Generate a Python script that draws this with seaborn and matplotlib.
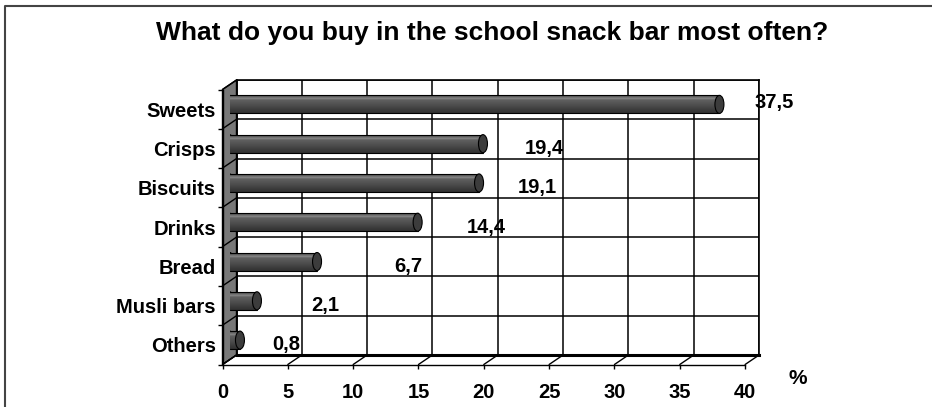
import numpy as np
import pandas as pd
import matplotlib
matplotlib.use("Agg")
import matplotlib.pyplot as plt
from matplotlib.colors import LinearSegmentedColormap
from matplotlib.patches import Ellipse, Polygon
from matplotlib.lines import Line2D
from matplotlib.transforms import IdentityTransform
import seaborn as sns

# ---------------- data ----------------
categories = ["Sweets", "Crisps", "Biscuits", "Drinks", "Bread", "Musli bars", "Others"]
values = [37.5, 19.4, 19.1, 14.4, 6.7, 2.1, 0.8]
x_ticks = [0, 5, 10, 15, 20, 25, 30, 35, 40]
title = "What do you buy in the school snack bar most often?"
unit_label = "%"

# ---------------- layout (data positions of the value labels) ----------------
label_x = [42.25, 24.65, 24.07, 20.17, 14.2, 7.88, 4.86]
label_dy = [-0.17, 0, 0, 0, 0, 0, 0]

sns.set_style("white")
plt.rcParams["font.family"] = ["Liberation Sans", "DejaVu Sans"]
plt.rcParams["font.weight"] = "bold"
plt.rcParams["text.color"] = "black"
plt.rcParams["xtick.color"] = "black"
plt.rcParams["ytick.color"] = "black"
plt.rcParams["xtick.labelcolor"] = "black"
plt.rcParams["ytick.labelcolor"] = "black"

W, H, DPI = 932, 407, 100
fig = plt.figure(figsize=(W / DPI, H / DPI), dpi=DPI)
fig.patch.set_facecolor("white")


def px_axes(left, top, width, height):
    return [left / W, 1 - (top + height) / H, width / W, height / H]


SPAN = 522.6
HGT = 275.0
back = (236.5, 80.0)
dx, dy = 14.0, 9.5   # depth offset (front is left/down)

ax_back = fig.add_axes(px_axes(back[0], back[1], SPAN, HGT), zorder=0)
ax_front = fig.add_axes(px_axes(back[0] - dx, back[1] + dy, SPAN, HGT), zorder=1)
ax_mid = fig.add_axes(px_axes(back[0] - dx / 2, back[1] + dy / 2, SPAN, HGT), zorder=2)

n = len(categories)
ylims = (n - 0.5, -0.5)
xlims = (x_ticks[0], x_ticks[-1])

# ---- back wall with grid ----
ax_back.set_xlim(*xlims)
ax_back.set_ylim(*ylims)
ax_back.set_facecolor("white")
ax_back.set_xticks(x_ticks)
ax_back.set_yticks(np.arange(-0.5, n, 1.0))
ax_back.grid(True, color="black", lw=1.1)
ax_back.tick_params(length=0, labelbottom=False, labelleft=False)
for s in ax_back.spines.values():
    s.set_color("black")
    s.set_linewidth(1.2)
ax_back.spines["bottom"].set_linewidth(2.2)

# ---- bars (mid depth) ----
df = pd.DataFrame({"item": categories, "pct": values})
sns.barplot(data=df, x="pct", y="item", orient="h", ax=ax_mid, color="#4f4f4f",
            width=0.46, edgecolor="none", saturation=1)
ax_mid.set_xlim(*xlims)
ax_mid.set_ylim(*ylims)
ax_mid.set_facecolor("none")
ax_mid.axis("off")

cyl = LinearSegmentedColormap.from_list(
    "cyl", [(0.0, "#3a3a3a"), (0.12, "#5e5e5e"), (0.24, "#8a8a8a"), (0.30, "#606060"),
            (0.6, "#4d4d4d"), (1.0, "#303030")])
grad = np.linspace(0, 1, 64).reshape(-1, 1)
px_per_unit = SPAN / (xlims[1] - xlims[0])
cap_w = 9.0 / px_per_unit
for p in list(ax_mid.patches):
    x0, y0 = p.get_x(), p.get_y()
    w, h = p.get_width(), p.get_height()
    p.set_zorder(3)
    # rounded left end
    ax_mid.add_patch(Ellipse((x0, y0 + h / 2), cap_w, h, facecolor="#555555",
                             edgecolor="black", lw=0.8, zorder=2))
    im = ax_mid.imshow(grad, extent=[x0, x0 + w, y0 + h, y0], aspect="auto",
                       cmap=cyl, zorder=3.5, interpolation="bilinear")
    im.set_clip_path(p)
    ax_mid.plot([x0, x0 + w], [y0, y0], color="black", lw=0.8, zorder=4)
    ax_mid.plot([x0, x0 + w], [y0 + h, y0 + h], color="black", lw=0.8, zorder=4)
    # end cap
    ax_mid.add_patch(Ellipse((x0 + w, y0 + h / 2), cap_w, h, facecolor="#3c3c3c",
                             edgecolor="black", lw=0.8, zorder=5))
ax_mid.set_xlim(*xlims)
ax_mid.set_ylim(*ylims)

# ---- front plane: axes, ticks, labels ----
ax_front.set_xlim(*xlims)
ax_front.set_ylim(*ylims)
ax_front.set_facecolor("none")
for k in ["top", "right"]:
    ax_front.spines[k].set_visible(False)
for k in ["bottom", "left"]:
    ax_front.spines[k].set_color("black")
    ax_front.spines[k].set_linewidth(1.0)
ax_front.set_xticks(x_ticks)
ax_front.set_xticklabels([str(t) for t in x_ticks], fontsize=14.5, fontweight="bold",
                         color="black")
ax_front.set_yticks(range(n))
ax_front.set_yticklabels(categories, fontsize=14.5, fontweight="bold", color="black")
ax_front.set_yticks(np.arange(-0.5, n, 1.0), minor=True)
ax_front.tick_params(axis="x", which="major", direction="out", length=3, width=1,
                     color="black", pad=10.5, bottom=True)
ax_front.tick_params(axis="y", which="major", length=0, pad=4.8, left=True)
ax_front.tick_params(axis="y", which="minor", direction="out", length=3.5, width=1,
                     color="black", left=True)

for i, v in enumerate(values):
    ax_front.text(label_x[i], i + label_dy[i], f"{v:.1f}".replace(".", ","),
                  ha="center", va="center", fontsize=14.5, fontweight="bold",
                  color="black", clip_on=False)

# ---- 3D wall and floor (display coords from the two planes) ----
tb = ax_back.transData
tf = ax_front.transData
wall = [tb.transform((0, ylims[1])), tb.transform((0, ylims[0])),
        tf.transform((0, ylims[0])), tf.transform((0, ylims[1]))]
fig.add_artist(Polygon(wall, closed=True, transform=IdentityTransform(),
                       facecolor="#787878", edgecolor="black", lw=1.0, zorder=-1))
for b in np.arange(-0.5, n, 1.0):
    p1, p2 = tb.transform((0, b)), tf.transform((0, b))
    fig.add_artist(Line2D([p1[0], p2[0]], [p1[1], p2[1]], transform=IdentityTransform(),
                          color="black", lw=1.0, zorder=-0.5))
for t in x_ticks:
    p1, p2 = tb.transform((t, ylims[0])), tf.transform((t, ylims[0]))
    fig.add_artist(Line2D([p1[0], p2[0]], [p1[1], p2[1]], transform=IdentityTransform(),
                          color="black", lw=1.0, zorder=0.5))

# ---- title, unit, frame ----
fig.text(492.5 / W, 1 - 33 / H, title, ha="center", va="center",
         fontsize=19, fontweight="bold", color="black")
fig.text(798 / W, 1 - 379 / H, unit_label, ha="center", va="center",
         fontsize=15, fontweight="bold", color="black")
fig.add_artist(Line2D([5 / W, 5 / W, 1], [0, 1 - 6 / H, 1 - 6 / H],
                      transform=fig.transFigure, color="#444444", lw=1.5))

fig.savefig("out.png", dpi=DPI, facecolor="white")
